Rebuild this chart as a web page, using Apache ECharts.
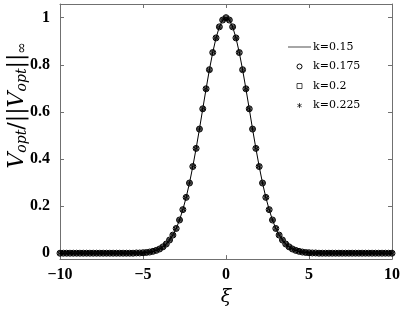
<!DOCTYPE html>
<html><head><meta charset="utf-8">
<script src="https://cdn.jsdelivr.net/npm/echarts@6/dist/echarts.min.js"></script>
<style>html,body{margin:0;padding:0;background:#fff}#c{width:415px;height:312px}</style>
</head><body><div id="c"></div>
<script>
// xi grid (step 0.2) and normalized profile (symmetric about 0)
const xi = [];
for (let i = -50; i <= 50; i++) xi.push(+(i * 0.2).toFixed(1));
const halfProfile = [1.000,0.990,0.961,0.914,0.852,0.779,0.698,0.613,0.527,0.445,
  0.368,0.298,0.237,0.185,0.141,0.105,0.077,0.056,0.039,0.027,
  0.018,0.012,0.008,0.005,0.003,0.002,0.001,0.001,0,0,
  0,0,0,0,0,0,0,0,0,0,
  0,0,0,0,0,0,0,0,0,0,0];
const vK015 = halfProfile.slice(1).reverse().concat(halfProfile);
const vK0175 = vK015.slice();
const vK02 = vK015.slice();
const vK0225 = vK015.slice();
const seriesNames = ['k=0.15','k=0.175','k=0.2','k=0.225'];
const xTicks = [-10,-5,0,5,10];
const yTicks = [0,0.2,0.4,0.6,0.8,1];

const pair = arr => xi.map((x,i)=>[x,arr[i]]);
const star = 'path://M5 0L5 10M0.7 2.5L9.3 7.5M9.3 2.5L0.7 7.5';
const sq = 'path://M0 0L1 0L1 1L0 1Z';
const lineIcon = 'path://M0 0L22 0L22 1L0 1Z';
const axisColor = '#707070';
const tickFont = {fontFamily:'Liberation Serif', fontWeight:'bold', fontSize:16, color:'#000'};
const hollow = {color:'rgba(255,255,255,0)', borderColor:'#000', borderWidth:1};
const chart = echarts.init(document.getElementById('c'), null, {renderer:'canvas'});
chart.setOption({
  animation:false,
  backgroundColor:'#fff',
  grid:{left:60,right:23,top:4,bottom:49},
  legend:{
    orient:'vertical', left:283, top:36, itemWidth:23, itemHeight:5, itemGap:7.5,
    textStyle:{fontFamily:'DejaVu Serif', fontSize:11, lineHeight:12, color:'#000', padding:[0,0,0,-3]},
    data:[
      {name:seriesNames[0], icon:lineIcon, itemStyle:{color:'#555', borderWidth:0}},
      {name:seriesNames[1], icon:'circle', itemStyle:hollow},
      {name:seriesNames[2], icon:sq, itemStyle:Object.assign({}, hollow, {borderWidth:0.7})},
      {name:seriesNames[3], icon:star, itemStyle:Object.assign({}, hollow, {borderWidth:0.7})}
    ]
  },
  xAxis:[{
    type:'value', min:-10, max:10, interval:5,
    name:'ξ', nameLocation:'middle', nameGap:26,
    nameTextStyle:{fontFamily:'DejaVu Serif', fontStyle:'italic', fontSize:19, color:'#000'},
    axisLine:{onZero:false, lineStyle:{color:axisColor}},
    axisTick:{inside:true, length:4, lineStyle:{color:axisColor}},
    axisLabel:Object.assign({margin:8, formatter:v=>String(v).replace('-','\u2212')}, tickFont),
    splitLine:{show:false}
  },{
    type:'value', position:'top', min:-10, max:10, interval:5,
    axisLine:{onZero:false, lineStyle:{color:axisColor}},
    axisTick:{inside:true, length:4, lineStyle:{color:axisColor}},
    axisLabel:{show:false}, splitLine:{show:false}
  }],
  yAxis:[{
    type:'value', min:-0.025, max:1.058,
    axisLine:{show:true, onZero:false, lineStyle:{color:axisColor}},
    axisTick:{show:true, inside:true, length:4, lineStyle:{color:axisColor}, customValues:yTicks},
    axisLabel:Object.assign({margin:10, customValues:yTicks, formatter:v=>String(v)}, tickFont),
    splitLine:{show:false}
  },{
    type:'value', position:'right', min:-0.025, max:1.058,
    axisLine:{show:true, onZero:false, lineStyle:{color:axisColor}},
    axisTick:{show:true, inside:true, length:4, lineStyle:{color:axisColor}, customValues:yTicks},
    axisLabel:{show:false, customValues:yTicks}, splitLine:{show:false}
  }],
  graphic:[{
    type:'text', left:6, top:42, rotation:Math.PI/2,
    style:{
      rich:{
        v:{fontFamily:'DejaVu Serif', fontStyle:'italic', fontSize:22, fill:'#000'},
        s:{fontFamily:'DejaVu Serif', fontStyle:'italic', fontSize:14, fill:'#000', padding:[11,0,0,0]},
        n:{fontFamily:'DejaVu Serif', fontSize:22, fill:'#000'}
      },
      text:'{v|V}{s|opt}{n|/||}{v|V}{s|opt}{n|||}{s|∞}'
    }
  }],
  series:[
    {name:seriesNames[0], type:'line', data:pair(vK015), symbol:'none', lineStyle:{color:'#000', width:1}, itemStyle:{color:'#000'}, z:2},
    {name:seriesNames[1], type:'line', data:pair(vK0175), symbol:'circle', symbolSize:6, showSymbol:true,
      lineStyle:{width:0, opacity:0}, itemStyle:hollow, z:3},
    {name:seriesNames[2], type:'line', data:pair(vK02), symbol:'rect', symbolSize:3.5, showSymbol:true,
      lineStyle:{width:0, opacity:0}, itemStyle:Object.assign({}, hollow, {borderWidth:0.8}), z:4},
    {name:seriesNames[3], type:'line', data:pair(vK0225), symbol:star, symbolSize:4.5, showSymbol:true,
      lineStyle:{width:0, opacity:0}, itemStyle:Object.assign({}, hollow, {borderWidth:0.8}), z:5}
  ]
});
</script></body></html>
